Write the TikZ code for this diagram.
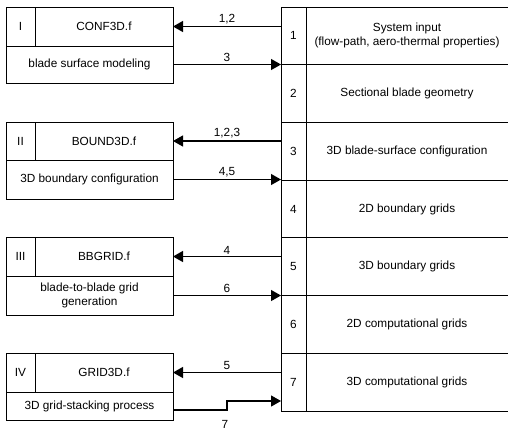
\documentclass[tikz,border=0pt]{standalone}
\usepackage{fontspec}
\setmainfont{Liberation Sans}
\usetikzlibrary{arrows.meta}
\begin{document}
\begin{tikzpicture}[x=1pt,y=-1pt,
  every node/.style={font=\fontsize{11.8}{14}\selectfont, inner sep=0pt, outer sep=0pt},
  part/.style={draw, line width=0.8pt, anchor=north west, align=center},
  numcell/.style={draw, line width=0.8pt, anchor=north west, minimum width=25pt, minimum height=57.7pt},
  txtcell/.style={anchor=west, minimum width=202pt, minimum height=57.7pt, align=center},
  tline/.style={line width=0.8pt},
  arr/.style={line width=1.2pt, -{Triangle[length=10pt,width=11pt]}},
  lab/.style={above=2.5pt}]
\fill[white] (0,0) rectangle (508,432);
\useasboundingbox (0,0) rectangle (508,432);

% right table
\node[numcell] (n1) at (281,7) {1};
\node[numcell] (n2) at (n1.south west) {2};
\node[numcell] (n3) at (n2.south west) {3};
\node[numcell] (n4) at (n3.south west) {4};
\node[numcell] (n5) at (n4.south west) {5};
\node[numcell] (n6) at (n5.south west) {6};
\node[numcell] (n7) at (n6.south west) {7};
\node[txtcell] (t1) at (n1.east) {System input\\(flow-path, aero-thermal properties)};
\node[txtcell] (t2) at (n2.east) {Sectional blade geometry};
\node[txtcell] (t3) at (n3.east) {3D blade-surface configuration};
\node[txtcell] (t4) at (n4.east) {2D boundary grids};
\node[txtcell] (t5) at (n5.east) {3D boundary grids};
\node[txtcell] (t6) at (n6.east) {2D computational grids};
\node[txtcell] (t7) at (n7.east) {3D computational grids};
\foreach \i in {1,...,7}{
  \draw[tline] (n\i.north east) -- (t\i.north east);
}
\draw[tline] (n7.south east) -- (t7.south east);

% left boxes
\node[part, minimum width=29pt, minimum height=39pt] (i1) at (6,7) {I};
\node[part, minimum width=138pt, minimum height=39pt] (m1) at (35,7) {CONF3D.f};
\node[part, minimum width=167pt, minimum height=37pt] (d1) at (6,46) {blade surface modeling};

\node[part, minimum width=29pt, minimum height=38pt] (i2) at (6,122) {II};
\node[part, minimum width=138pt, minimum height=38pt] (m2) at (35,122) {BOUND3D.f};
\node[part, minimum width=167pt, minimum height=39pt] (d2) at (6,160) {3D boundary configuration};

\node[part, minimum width=29pt, minimum height=39pt] (i3) at (6,237) {III};
\node[part, minimum width=138pt, minimum height=39pt] (m3) at (35,237) {BBGRID.f};
\node[part, minimum width=167pt, minimum height=39pt] (d3) at (6,276) {blade-to-blade grid\\generation};

\node[part, minimum width=29pt, minimum height=39pt] (i4) at (6,353) {IV};
\node[part, minimum width=138pt, minimum height=39pt] (m4) at (35,353) {GRID3D.f};
\node[part, minimum width=167pt, minimum height=28pt] (d4) at (6,392) {3D grid-stacking process};

% connectors
\draw[arr] (n1.west |- m1.east) -- node[lab]{1,2} (m1.east);
\draw[arr] (d1.east) -- node[lab]{3} (d1.east -| n1.west);
\draw[arr] (n3.west |- m2.east) -- node[lab]{1,2,3} (m2.east);
\draw[arr] (d2.east) -- node[lab]{4,5} (d2.east -| n3.west);
\draw[arr] (n5.west |- m3.east) -- node[lab]{4} (m3.east);
\draw[arr] (d3.east) -- node[lab]{6} (d3.east -| n5.west);
\draw[arr] (n7.west |- m4.east) -- node[lab]{5} (m4.east);
\coordinate (k7) at (227,401);
\draw[arr] ([yshift=-4pt]d4.east) -| node[pos=0.48, below=10pt]{7} (k7) -- (k7 -| n7.west);
\end{tikzpicture}
\end{document}
